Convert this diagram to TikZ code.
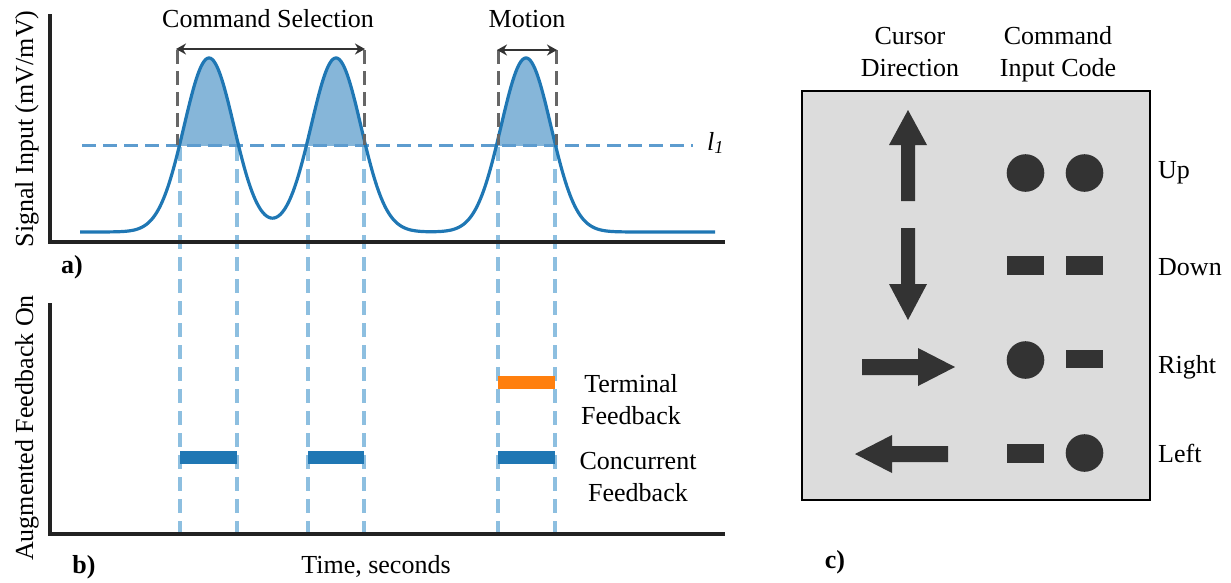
\documentclass[tikz,border=0pt]{standalone}
\usepackage{fontspec}
\setmainfont{Liberation Serif}
\usetikzlibrary{arrows.meta}
\definecolor{sigblue}{HTML}{1F77B4}
\definecolor{fillblue}{HTML}{86B6D9}
\definecolor{threshblue}{HTML}{5D9CCF}
\definecolor{vdashblue}{HTML}{8DBFE0}
\definecolor{termorange}{HTML}{FF7F0E}
\definecolor{darkgrey}{HTML}{333333}
\definecolor{midgrey}{HTML}{666666}
\definecolor{boxgrey}{HTML}{DCDCDC}
\definecolor{axisblack}{HTML}{222222}
\begin{document}
\begin{tikzpicture}[x=1pt,y=-1pt,
  font=\fontsize{26}{32}\selectfont,
  declare function={g(\t,\c)=exp(-min(((\t-\c)/25)^2/2,9));},
  axisline/.style={draw=axisblack, line width=3.5pt},
  signal/.style={draw=sigblue, line width=3.2pt},
  thresh/.style={draw=threshblue, line width=3pt, dash pattern=on 14pt off 7pt},
  vdash/.style={draw=vdashblue, line width=3.2pt, dash pattern=on 14pt off 8pt},
  gdash/.style={draw=midgrey, line width=3pt, dash pattern=on 14pt off 7pt},
  span/.style={draw=darkgrey, line width=2.5pt, {Stealth[length=10pt,width=11pt]}-{Stealth[length=10pt,width=11pt]}},
  fbbar/.style={line width=13pt},
  lbl/.style={inner sep=0pt},
  panel/.style={inner sep=0pt, font=\fontsize{26}{32}\selectfont\bfseries},
  glyph/.style={fill=darkgrey}
]
\useasboundingbox (0,0) rectangle (1231,582);

% ---------- panel a ----------
\coordinate (aT) at (50,14);
\coordinate (aO) at (50,242);
\coordinate (aR) at (725,242);
% fill above threshold
\begin{scope}
  \clip (150,40) rectangle (600,145);
  \fill[fillblue] plot[domain=150:600,samples=300] (\x,{232-174*(g(\x,209)+g(\x,336)+g(\x,526))}) -- (600,232) -- (150,232) -- cycle;
\end{scope}
% threshold
\coordinate (thL) at (82,145);
\coordinate (thR) at (693,145);
\draw[thresh] (thL) -- (thR);
% vertical blue dashed lines
\foreach \xx/\nm in {180/v1,237/v2,308/v3,364/v4,498/v5,555/v6}{
  \coordinate (\nm t) at (\xx,147);
  \coordinate (\nm b) at (\xx,534);
  \draw[vdash] (\nm t) -- (\nm b);
}
% signal
\draw[signal] plot[domain=80:715,samples=400] (\x,{232-174*(g(\x,209)+g(\x,336)+g(\x,526))});
% axes
\draw[axisline] (aT) -- (aO) -- (aR);
% grey dashed bounds
\foreach \xx/\nm in {177/g1,364/g2,498/g3,556/g4}{
  \coordinate (\nm t) at (\xx,50);
  \coordinate (\nm b) at (\xx,145);
  \draw[gdash] (\nm t) -- (\nm b);
}
\coordinate (csL) at (176,49);
\coordinate (csR) at (365,49);
\draw[span] (csL) -- (csR);
\coordinate (moL) at (497,50);
\coordinate (moR) at (557,50);
\draw[span] (moL) -- (moR);
\node[lbl, anchor=base] (cs) at (268,27) {Command Selection};
\node[lbl, anchor=base] (mo) at (527,27) {Motion};
\node[lbl, anchor=base west] (l1) at (707,150) {\textit{l}\textsubscript{\textit{1}}};
\node[lbl, rotate=90, anchor=base] (ylaba) at (33,129) {Signal Input (mV/mV)};
\node[panel, anchor=base] (pa) at (72,273) {a)};

% ---------- panel b ----------
\coordinate (bT) at (50,303);
\coordinate (bO) at (50,534);
\coordinate (bR) at (725,534);
\draw[axisline] (bT) -- (bO) -- (bR);
\coordinate (c1L) at (180,457); \coordinate (c1R) at (237,457);
\coordinate (c2L) at (308,457); \coordinate (c2R) at (364,457);
\coordinate (c3L) at (498,457); \coordinate (c3R) at (555,457);
\coordinate (t1L) at (498,382); \coordinate (t1R) at (555,382);
\draw[fbbar, sigblue] (c1L) -- (c1R);
\draw[fbbar, sigblue] (c2L) -- (c2R);
\draw[fbbar, sigblue] (c3L) -- (c3R);
\draw[fbbar, termorange] (t1L) -- (t1R);
\node[lbl, align=center] (tf) at (631,400) {Terminal\\Feedback};
\node[lbl, align=center] (cf) at (638,477) {Concurrent\\Feedback};
\node[lbl, rotate=90, anchor=base] (ylabb) at (33,428) {Augmented Feedback On};
\node[panel, anchor=base] (pb) at (84,573) {b)};
\node[lbl, anchor=base] (tx) at (376,573) {Time, seconds};

% ---------- panel c ----------
\node[lbl, align=center] (cd) at (910,52) {Cursor\\Direction};
\node[lbl, align=center] (ci) at (1058,54) {Command\\Input Code};
\filldraw[fill=boxgrey, draw=black, line width=2pt] (802,91) rectangle (1150,500);
% up arrow
\fill[glyph] (908,110) -- (927,145) -- (915,145) -- (915,201) -- (901,201) -- (901,145) -- (889,145) -- cycle;
% down arrow
\fill[glyph] (908,320) -- (927,284) -- (915,284) -- (915,228) -- (901,228) -- (901,284) -- (889,284) -- cycle;
% right arrow
\fill[glyph] (955,367) -- (918,348) -- (918,359) -- (862,359) -- (862,375) -- (918,375) -- (918,386) -- cycle;
% left arrow
\fill[glyph] (855,454) -- (892,435) -- (892,446) -- (948,446) -- (948,462) -- (892,462) -- (892,473) -- cycle;
% codes
\fill[glyph] (1025.5,173) circle[radius=18.8pt];
\fill[glyph] (1084.5,173) circle[radius=18.8pt];
\fill[glyph] (1007,256) rectangle (1044,275);
\fill[glyph] (1066,256) rectangle (1103,275);
\fill[glyph] (1025.5,360) circle[radius=18.8pt];
\fill[glyph] (1066,350) rectangle (1103,368);
\fill[glyph] (1007,444) rectangle (1044,463);
\fill[glyph] (1084.5,453) circle[radius=18.8pt];
\node[lbl, anchor=base west] (up) at (1158,178) {Up};
\node[lbl, anchor=base west] (dn) at (1158,275) {Down};
\node[lbl, anchor=base west] (rt) at (1158,373) {Right};
\node[lbl, anchor=base west] (lf) at (1158,462) {Left};
\node[panel, anchor=base] (pc) at (835,568) {c)};
\end{tikzpicture}
\end{document}
